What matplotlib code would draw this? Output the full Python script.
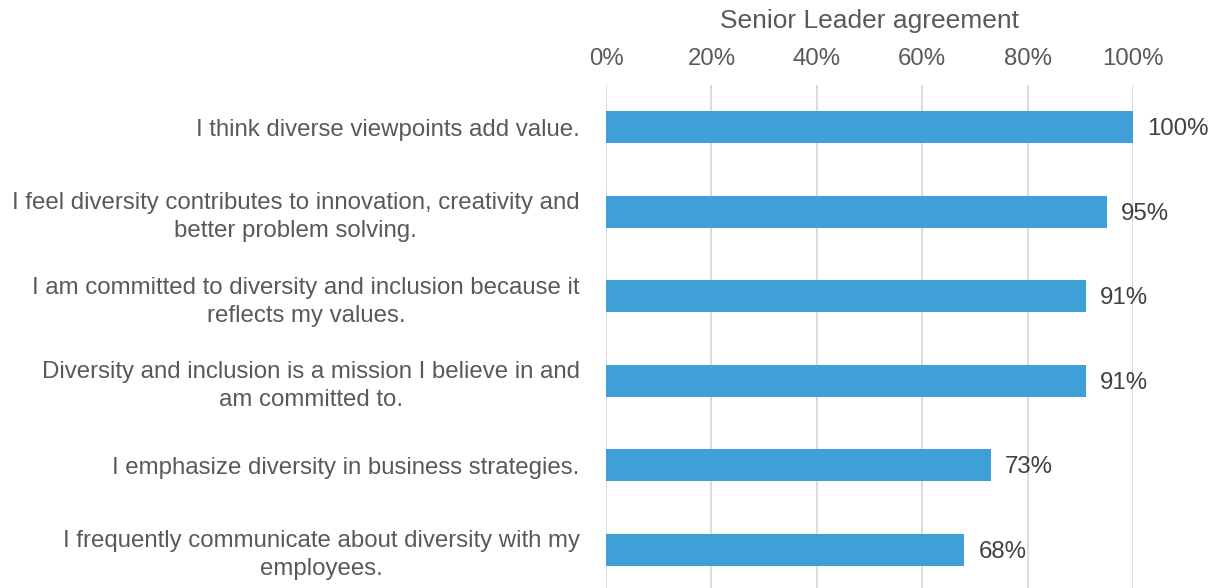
import matplotlib
matplotlib.use("Agg")
import matplotlib.pyplot as plt

categories = [
    "I think diverse viewpoints add value.",
    "I feel diversity contributes to innovation, creativity and\nbetter problem solving.",
    "I am committed to diversity and inclusion because it\nreflects my values.",
    "Diversity and inclusion is a mission I believe in and\nam committed to.",
    "I emphasize diversity in business strategies.",
    "I frequently communicate about diversity with my\nemployees.",
]
values = [1.00, 0.95, 0.91, 0.91, 0.73, 0.68]
value_labels = ["100%", "95%", "91%", "91%", "73%", "68%"]
xticks = [0, 0.2, 0.4, 0.6, 0.8, 1.0]
xtick_labels = ["0%", "20%", "40%", "60%", "80%", "100%"]
title = "Senior Leader agreement"

plt.rcParams['font.family'] = ['Liberation Sans', 'DejaVu Sans']
W, H = 1219, 588
fig = plt.figure(figsize=(W/100, H/100), dpi=100)
ax = fig.add_axes([606/W, -4/H, 527/W, (588-85+4)/H])

bar_color = "#3FA0D8"
text_gray = "#595959"
fs = 17.3
ypos = list(range(len(categories)))
ax.barh(ypos, values, height=0.38, color=bar_color, zorder=3)
ax.set_ylim(len(categories) - 0.5, -0.5)
ax.set_xlim(0, 1.0)

for y, v, lab in zip(ypos, values, value_labels):
    ax.annotate(lab, (v, y), xytext=(14, -2), textcoords="offset pixels",
                ha="left", va="center", fontsize=fs, color="#404040")

ax.set_xticks(xticks)
ax.set_xticklabels(xtick_labels)
ax.xaxis.tick_top()
ax.tick_params(axis="x", length=0, pad=10.5, labelsize=fs, colors=text_gray)
ax.set_yticks(ypos)
ax.set_yticklabels(categories, ha="right", multialignment="center",
                   linespacing=1.35)
ax.tick_params(axis="y", length=0, pad=19, labelsize=fs, colors=text_gray)

ax.grid(axis="x", color="#D9D9D9", linewidth=1.3, zorder=0)
for s in ax.spines.values():
    s.set_visible(False)

fig.text((606+1133)/2/W, 1 - 21/H, title, ha="center", va="center",
         fontsize=19, color=text_gray)

fig.savefig("out.png", dpi=100)
